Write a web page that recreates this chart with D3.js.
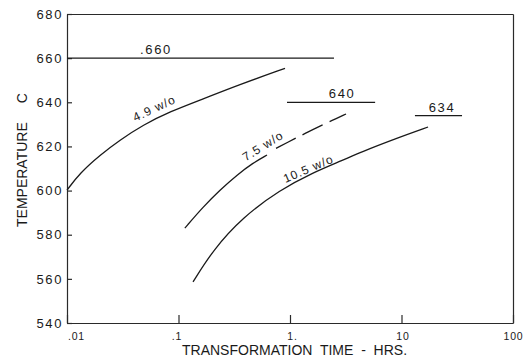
<!DOCTYPE html>
<html>
<head>
<meta charset="utf-8">
<script src="https://cdn.jsdelivr.net/npm/d3@7"></script>
<style>
  body { margin: 0; background: #fff; }
  svg { display: block; background: #fff; }
  .axis path, .axis line { stroke: #2a2a2a; stroke-width: 1.2; }
  .axis text { font-family: "Liberation Sans", Arial, sans-serif; fill: #1a1a1a; }
  .curve { fill: none; stroke: #1a1a1a; stroke-width: 1.3; }
  .lbl { font-family: "Liberation Sans", Arial, sans-serif; fill: #1a1a1a; }
</style>
</head>
<body>
<svg id="chart" width="527" height="360"></svg>
<script>
// axis ticks
var yTicks = [540, 560, 580, 600, 620, 640, 660, 680];
var xTicks = [0.01, 0.1, 1, 10, 100];
var xTickLabels = [".01", ".1", "1.", "10", "100"];

// transformation curves [hours, temperature C]
var curve49 = [[0.01, 600.2], [0.0131, 608], [0.0198, 616.1], [0.0299, 622.9], [0.048, 629.7],
               [0.084, 635.8], [0.166, 641.5], [0.335, 647.6], [0.902, 655.4]];
var curve75 = [[0.114, 583.0], [0.166, 592.6], [0.236, 600.3], [0.335, 607.1], [0.465, 612.5], [0.622, 616.1]];
var curve75Dashed = [[0.749, 619.1], [1.13, 623.8], [1.31, 625.4], [1.98, 629.9], [2.33, 631.5], [3.18, 634.7]];
var curve105 = [[0.135, 558.6], [0.204, 573.1], [0.378, 588.0], [0.813, 600.3], [1.61, 608.2],
                [2.99, 613.8], [4.25, 617.3], [9.12, 623.8], [17.3, 628.8]];

var curveNames = ["4.9 w/o", "7.5 w/o", "10.5 w/o"];
var curveLabelTime = [0.0628, 0.597, 1.51];
var curveLabelTemp = [635.6, 618.6, 608.2];

// horizontal temperature lines
var isoTemps = [660, 640, 634];
var isoStart = [0.01, 0.94, 13.2];
var isoEnd = [2.48, 5.8, 34.9];
var isoLabels = [".660", "640", "634"];
var isoLabelTime = [0.0628, 2.93, 23.1];

var svg = d3.select("#chart");

var x = d3.scaleLog().domain([0.01, 100]).range([67, 513]),
    y = d3.scaleLinear().domain([540, 680]).range([323, 14]);

// frame
svg.append("g")
  .attr("class", "axis")
  .attr("transform", "translate(0,14)")
  .call(d3.axisTop(x).tickValues([]).tickSizeOuter(0));

svg.append("g")
  .attr("class", "axis")
  .attr("transform", "translate(513,0)")
  .call(d3.axisRight(y).tickValues([]).tickSizeOuter(0));

var yAxis = svg.append("g")
  .attr("class", "axis axis-y")
  .attr("transform", "translate(67,0)")
  .call(d3.axisLeft(y).tickValues(yTicks).tickSizeInner(-5).tickSizeOuter(0).tickPadding(4)
    .tickFormat(d3.format("d")));
yAxis.selectAll("text")
  .style("font-size", "13px")
  .style("letter-spacing", "1.6px");

var xAxis = svg.append("g")
  .attr("class", "axis axis-x")
  .attr("transform", "translate(0,323)")
  .call(d3.axisBottom(x).tickValues(xTicks).tickSizeInner(-8).tickSizeOuter(0).tickPadding(10)
    .tickFormat(function(d, i) { return xTickLabels[i]; }));
var xShift = [9, -2, 2, 1, 0];
xAxis.selectAll("text")
  .style("font-size", "10.5px")
  .style("letter-spacing", "0.8px")
  .attr("dx", function(d, i) { return xShift[i]; });

// axis titles
svg.append("text")
  .attr("class", "lbl")
  .attr("x", 182)
  .attr("y", 355)
  .style("font-size", "14px")
  .style("white-space", "pre")
  .text("TRANSFORMATION  TIME  -  HRS.");

var yt = svg.append("text")
  .attr("class", "lbl")
  .attr("transform", "translate(27,227) rotate(-90)")
  .style("font-size", "14px");
yt.append("tspan").text("TEMPERATURE");
yt.append("tspan").attr("dx", 19).text("C");

// horizontal lines
isoTemps.forEach(function(T, i) {
  svg.append("line")
    .attr("class", "curve")
    .attr("x1", x(isoStart[i]))
    .attr("x2", x(isoEnd[i]))
    .attr("y1", y(T))
    .attr("y2", y(T));
  svg.append("text")
    .attr("class", "lbl")
    .attr("x", x(isoLabelTime[i]))
    .attr("y", y(T) - 4)
    .attr("text-anchor", "middle")
    .style("font-size", "13px")
    .style("letter-spacing", "1.6px")
    .text(isoLabels[i]);
});

// curves
var line = d3.line()
  .x(function(d) { return x(d[0]); })
  .y(function(d) { return y(d[1]); })
  .curve(d3.curveBasis);

[curve49, curve75, curve105].forEach(function(c) {
  svg.append("path").attr("class", "curve").attr("d", line(c));
});
svg.append("path")
  .attr("class", "curve")
  .attr("d", line(curve75Dashed))
  .style("stroke-dasharray", "22,8");

var labelAngles = [-25, -32, -23];
curveNames.forEach(function(name, i) {
  svg.append("text")
    .attr("class", "lbl")
    .attr("text-anchor", "middle")
    .attr("transform", "translate(" + x(curveLabelTime[i]) + "," + y(curveLabelTemp[i]) + ") rotate(" + labelAngles[i] + ")")
    .style("font-size", "12px")
    .style("letter-spacing", "1px")
    .text(name);
});
</script>
</body>
</html>
